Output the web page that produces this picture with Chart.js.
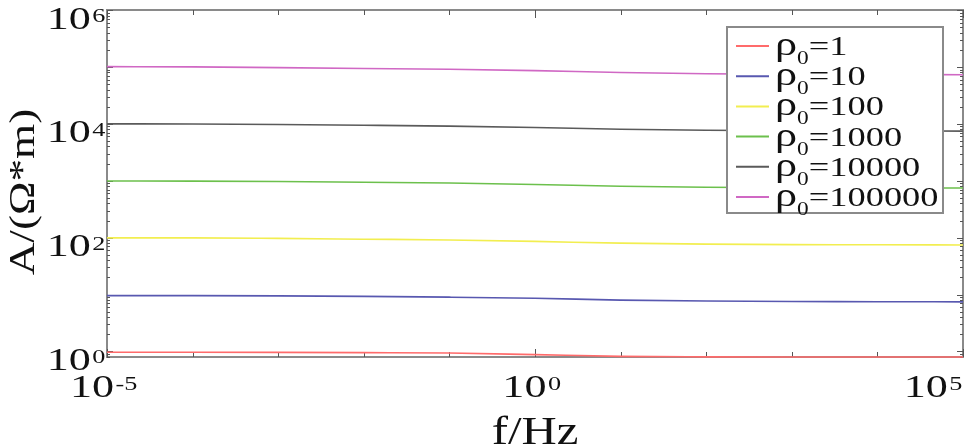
<!DOCTYPE html>
<html>
<head>
<meta charset="utf-8">
<script src="https://cdn.jsdelivr.net/npm/chart.js@4"></script>
<style>
  html, body { margin: 0; padding: 0; background: #fff; }
  #wrap { position: relative; width: 975px; height: 447px; }
</style>
</head>
<body>
<div id="wrap"><canvas id="ampChart" width="975" height="447"></canvas></div>
<script>
// frequency points (Hz), one per decade
const freqs = [1e-5, 1e-4, 1e-3, 1e-2, 1e-1, 1e0, 1e1, 1e2, 1e3, 1e4, 1e5];

// apparent resistivity A (Ohm*m)
const rho1      = [0.97, 0.97, 0.965, 0.955, 0.94, 0.88, 0.82, 0.805, 0.80, 0.80, 0.80];
const rho10     = [9.6, 9.6, 9.5, 9.3, 9.0, 8.6, 8.0, 7.7, 7.55, 7.5, 7.45];
const rho100    = [99, 99, 97, 94, 91, 86, 80, 77, 75.5, 75, 74.5];
const rho1000   = [990, 985, 970, 940, 910, 860, 800, 770, 755, 750, 745];
const rho10000  = [10000, 9950, 9750, 9450, 9100, 8600, 8050, 7700, 7550, 7500, 7450];
const rho100000 = [101000, 100000, 97000, 94000, 91000, 86000, 80000, 76000, 74000, 73500, 73000];

const seriesLabels = ['1', '10', '100', '1000', '10000', '100000'];
const seriesColors = ['#ff6b6b', '#5858b0', '#f2ee50', '#6cc04c', '#5a5a5a', '#d068c4'];
const seriesValues = [rho1, rho10, rho100, rho1000, rho10000, rho100000];

// tick labels (powers of ten)
const xTickExps = [-5, 0, 5];
const yTickExps = [0, 2, 4, 6];

const SERIF = '"Liberation Serif", "Times New Roman", serif';
const AXIS_GREY = '#8a8a8a';

// draws "10" with a superscript exponent
function drawPower(ctx, exp, ax, midY, align, size, hs) {
    const sup = Math.round(size * 0.58);
    ctx.save();
    ctx.translate(ax, midY);
    ctx.scale(hs, 1);
    ctx.font = size + 'px ' + SERIF;
    const w1 = ctx.measureText('10').width;
    ctx.font = sup + 'px ' + SERIF;
    const w2 = ctx.measureText(String(exp)).width;
    const total = w1 + w2;
    let x0 = 0;
    if (align === 'right') x0 = -total;
    else if (align === 'center') x0 = -total / 2;
    ctx.fillStyle = '#111';
    ctx.textBaseline = 'alphabetic';
    ctx.textAlign = 'left';
    ctx.font = size + 'px ' + SERIF;
    ctx.fillText('10', x0, size * 0.33);
    ctx.font = sup + 'px ' + SERIF;
    ctx.fillText(String(exp), x0 + w1 + 1, -size * 0.33 + 2 + sup * 0.66);
    ctx.restore();
}

const framePlugin = {
    id: 'frame',
    beforeDatasetsDraw(chart) {
        const ctx = chart.ctx;
        const a = chart.chartArea;
        const xs = chart.scales.x, ys = chart.scales.y;
        ctx.save();
        ctx.strokeStyle = AXIS_GREY;
        ctx.lineWidth = 2;
        ctx.strokeRect(a.left, a.top, a.right - a.left, a.bottom - a.top);

        // y ticks, major and minor, on both sides
        ctx.lineWidth = 1;
        ctx.strokeStyle = '#555';
        for (let e = -1; e <= 6; e++) {
            for (let m = 1; m <= 9; m++) {
                const v = m * Math.pow(10, e);
                if (v < ys.min || v > ys.max) continue;
                const py = Math.round(ys.getPixelForValue(v)) + 0.5;
                const len = m === 1 ? 6 : 3;
                ctx.beginPath();
                ctx.moveTo(a.left, py); ctx.lineTo(a.left + len, py);
                ctx.moveTo(a.right, py); ctx.lineTo(a.right - len, py);
                ctx.stroke();
            }
        }
        // x ticks at each decade, top and bottom
        for (let e = -5; e <= 5; e++) {
            const px = Math.round(xs.getPixelForValue(Math.pow(10, e))) + 0.5;
            const len = xTickExps.includes(e) ? 8 : 5;
            ctx.beginPath();
            ctx.moveTo(px, a.bottom); ctx.lineTo(px, a.bottom - len);
            ctx.moveTo(px, a.top); ctx.lineTo(px, a.top + len);
            ctx.stroke();
        }
        ctx.restore();
    },
    afterDatasetsDraw(chart) {
        const ctx = chart.ctx;
        const a = chart.chartArea;
        const xs = chart.scales.x, ys = chart.scales.y;
        ctx.save();

        // tick labels
        yTickExps.forEach(e => {
            const py = ys.getPixelForValue(Math.pow(10, e));
            drawPower(ctx, e, a.left - 3, py + 8, 'right', 32, 1.38);
        });
        xTickExps.forEach((e, i) => {
            const px = xs.getPixelForValue(Math.pow(10, e));
            const align = i === xTickExps.length - 1 ? 'right' : 'center';
            const ax = align === 'right' ? px - 2 : px - 4;
            drawPower(ctx, e, ax, a.bottom + 29, align, 32, 1.38);
        });

        // axis titles
        ctx.fillStyle = '#111';
        ctx.textAlign = 'center';
        ctx.textBaseline = 'middle';
        ctx.save();
        ctx.translate(24, 192);
        ctx.rotate(-Math.PI / 2);
        ctx.scale(1.05, 0.85);
        ctx.font = '43px ' + SERIF;
        ctx.fillText('A/(\u03A9*m)', 0, 0);
        ctx.restore();

        ctx.save();
        ctx.translate((a.left + a.right) / 2, 444);
        ctx.scale(1.22, 1);
        ctx.textBaseline = 'alphabetic';
        ctx.font = '40px ' + SERIF;
        ctx.fillText('f/Hz', 0, 0);
        ctx.restore();

        // legend box
        const bx = 727, by = 27, bw = 216, bh = 186;
        ctx.fillStyle = '#fff';
        ctx.fillRect(bx, by, bw, bh);
        ctx.strokeStyle = AXIS_GREY;
        ctx.lineWidth = 2;
        ctx.strokeRect(bx, by, bw, bh);
        chart.data.datasets.forEach((ds, i) => {
            const ly = 46 + i * 30.2;
            ctx.strokeStyle = ds.borderColor;
            ctx.lineWidth = 2;
            ctx.beginPath();
            ctx.moveTo(736, ly); ctx.lineTo(769, ly);
            ctx.stroke();
            ctx.save();
            ctx.translate(775, ly + 9);
            ctx.scale(1.3, 1);
            ctx.fillStyle = '#111';
            ctx.textAlign = 'left';
            ctx.textBaseline = 'alphabetic';
            ctx.font = '34px ' + SERIF;
            ctx.fillText('\u03C1', 0, 0);
            let x = ctx.measureText('\u03C1').width;
            ctx.font = '18px ' + SERIF;
            ctx.fillText('0', x, 9);
            x += ctx.measureText('0').width;
            ctx.font = '28px ' + SERIF;
            ctx.fillText('=' + ds.label, x, 0);
            ctx.restore();
        });
        ctx.restore();
    }
};

const datasets = seriesValues.map((vals, i) => ({
    label: seriesLabels[i],
    data: freqs.map((f, j) => ({ x: f, y: vals[j] })),
    borderColor: seriesColors[i],
    borderWidth: 1.6,
    pointRadius: 0,
    cubicInterpolationMode: 'monotone',
    clip: 4,
    fill: false
}));

new Chart(document.getElementById('ampChart').getContext('2d'), {
    type: 'line',
    data: { datasets },
    options: {
        responsive: false,
        animation: false,
        devicePixelRatio: 1,
        layout: { padding: { top: 10, right: 12, left: 0, bottom: 0 } },
        plugins: { legend: { display: false }, tooltip: { enabled: false } },
        scales: {
            x: {
                type: 'logarithmic',
                min: 1e-5, max: 1e5,
                grid: { display: false },
                border: { display: false },
                ticks: { display: false },
                afterFit: s => { s.height = 90; }
            },
            y: {
                type: 'logarithmic',
                min: 0.8, max: 1e6,
                grid: { display: false },
                border: { display: false },
                ticks: { display: false },
                afterFit: s => { s.width = 107; }
            }
        }
    },
    plugins: [framePlugin]
});
</script>
</body>
</html>
